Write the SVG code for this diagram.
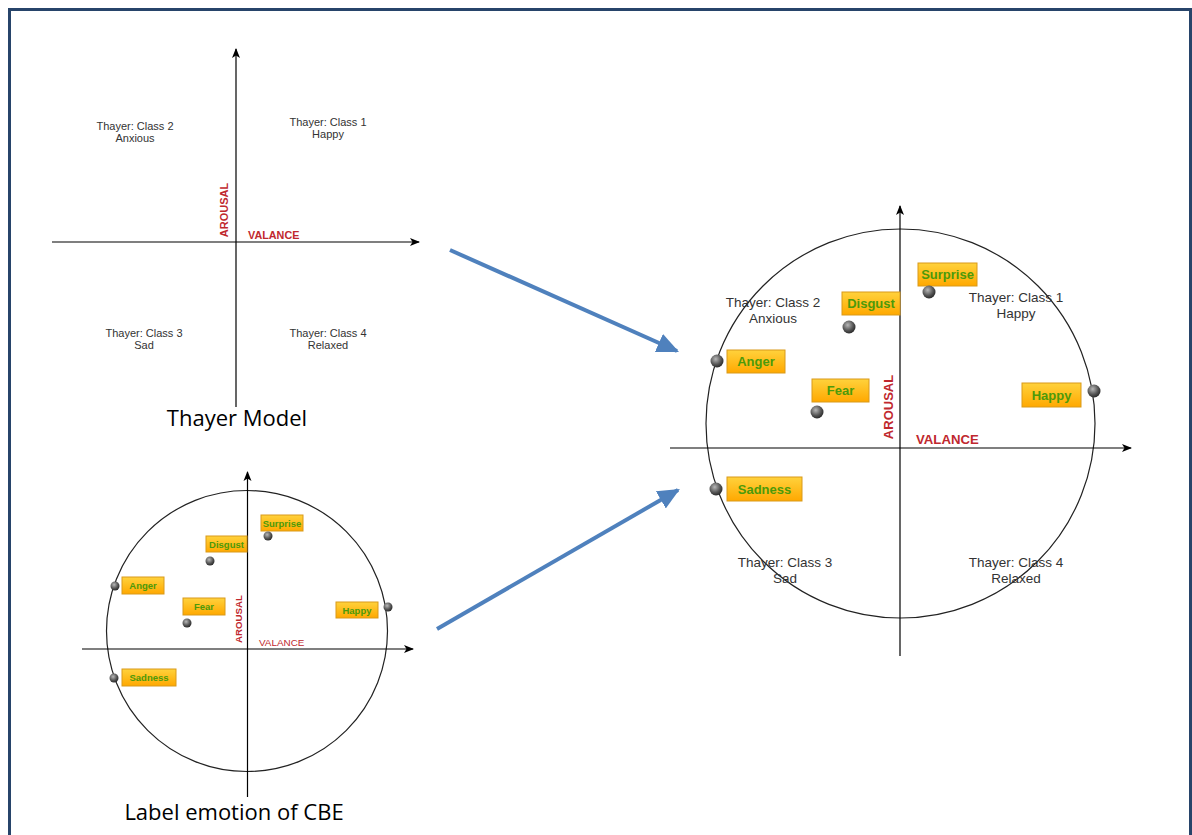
<svg xmlns="http://www.w3.org/2000/svg" width="1192" height="835" viewBox="0 0 1192 835">
<defs>
<linearGradient id="box" x1="0" y1="0" x2="0" y2="1">
<stop offset="0" stop-color="#ffd23c"/>
<stop offset="1" stop-color="#ffa800"/>
</linearGradient>
<radialGradient id="dot" cx="0.4" cy="0.35" r="0.7">
<stop offset="0" stop-color="#b8b8b8"/>
<stop offset="0.6" stop-color="#555"/>
<stop offset="1" stop-color="#222"/>
</radialGradient>
<marker id="ax" viewBox="0 0 10 10" refX="9" refY="5" markerWidth="10" markerHeight="10" markerUnits="userSpaceOnUse" orient="auto">
<path d="M0,1 L10,5 L0,9 L2.5,5 Z" fill="#000"/>
</marker>
<marker id="blue" viewBox="0 0 20 18" refX="18" refY="9" markerWidth="22" markerHeight="20" markerUnits="userSpaceOnUse" orient="auto">
<path d="M0,0 L20,9 L0,18 Z" fill="#4f81bd"/>
</marker>
<style>
.axis{stroke:#000;stroke-width:1.2;fill:none}
.circ{stroke:#222;stroke-width:1.2;fill:none}
.th{font-family:"Liberation Sans",Arial,sans-serif;fill:#333;text-anchor:middle}
.red{font-family:"Liberation Sans",Arial,sans-serif;fill:#c0282e;font-weight:bold}
.bx{fill:url(#box);stroke:#d99a1a;stroke-width:1}
.em{font-family:"Liberation Sans",Arial,sans-serif;fill:#4c9a0a;font-weight:bold;text-anchor:middle}
.dt{fill:url(#dot)}
.cap{font-family:"Open Sans","Noto Sans","Liberation Sans",sans-serif;fill:#000;text-anchor:middle}
.conn{stroke:#4f81bd;stroke-width:4;fill:none;marker-end:url(#blue)}
</style>
</defs>
<rect x="9.5" y="9.5" width="1181" height="840" fill="#fff" stroke="#27446a" stroke-width="3"/>

<g id="thayer-model">
<line class="axis" x1="236" y1="407" x2="236" y2="49" marker-end="url(#ax)"/>
<line class="axis" x1="52" y1="242" x2="419" y2="242" marker-end="url(#ax)"/>
<text class="th" font-size="11" x="135" y="130">Thayer: Class 2</text>
<text class="th" font-size="11" x="135" y="142">Anxious</text>
<text class="th" font-size="11" x="328" y="126">Thayer: Class 1</text>
<text class="th" font-size="11" x="328" y="138">Happy</text>
<text class="th" font-size="11" x="144" y="337">Thayer: Class 3</text>
<text class="th" font-size="11" x="144" y="349">Sad</text>
<text class="th" font-size="11" x="328" y="337">Thayer: Class 4</text>
<text class="th" font-size="11" x="328" y="349">Relaxed</text>
<text class="red" font-size="11" text-anchor="middle" transform="translate(228,210) rotate(-90)">AROUSAL</text>
<text class="red" font-size="10.8" x="248" y="239">VALANCE</text>
<text class="cap" font-size="22" x="237" y="426">Thayer Model</text>
</g>

<g id="cbe-model">
<circle class="circ" cx="247" cy="631" r="140.5"/>
<line class="axis" x1="247.5" y1="797" x2="247.5" y2="472" marker-end="url(#ax)"/>
<line class="axis" x1="82" y1="649" x2="413" y2="649" marker-end="url(#ax)"/>
<text class="red" font-size="9.7" text-anchor="middle" transform="translate(241.5,619) rotate(-90)">AROUSAL</text>
<text class="red" font-size="9.9" x="259" y="645.5" style="font-weight:normal">VALANCE</text>
<g id="s-surprise"><rect class="bx" x="261" y="515" width="42" height="16"/><text class="em" font-size="9.5" x="282" y="526.5">Surprise</text><circle class="dt" cx="268" cy="536" r="4.5"/></g>
<g id="s-disgust"><rect class="bx" x="206" y="536" width="41" height="16"/><text class="em" font-size="9.5" x="226.5" y="547.5">Disgust</text><circle class="dt" cx="210" cy="561" r="4.5"/></g>
<g id="s-anger"><rect class="bx" x="122" y="577" width="42" height="17"/><text class="em" font-size="9.5" x="143" y="589">Anger</text><circle class="dt" cx="115" cy="586" r="4.5"/></g>
<g id="s-fear"><rect class="bx" x="183" y="598" width="42" height="17"/><text class="em" font-size="9.5" x="204" y="610">Fear</text><circle class="dt" cx="187" cy="623" r="4.5"/></g>
<g id="s-happy"><rect class="bx" x="336" y="602" width="42" height="16"/><text class="em" font-size="9.5" x="357" y="613.5">Happy</text><circle class="dt" cx="388" cy="607" r="4.5"/></g>
<g id="s-sadness"><rect class="bx" x="122" y="669" width="54" height="17"/><text class="em" font-size="9.5" x="149" y="681">Sadness</text><circle class="dt" cx="114" cy="678" r="4.5"/></g>
<text class="cap" font-size="22" x="234" y="820">Label emotion of CBE</text>
</g>

<g id="combined-model">
<circle class="circ" cx="900.5" cy="423.5" r="194.5"/>
<line class="axis" x1="900" y1="656" x2="900" y2="206" marker-end="url(#ax)"/>
<line class="axis" x1="670" y1="448" x2="1131" y2="448" marker-end="url(#ax)"/>
<text class="th" font-size="13.5" x="773" y="307">Thayer: Class 2</text>
<text class="th" font-size="13.5" x="773" y="323">Anxious</text>
<text class="th" font-size="13.5" x="1016" y="302">Thayer: Class 1</text>
<text class="th" font-size="13.5" x="1016" y="318">Happy</text>
<text class="th" font-size="13.5" x="785" y="567">Thayer: Class 3</text>
<text class="th" font-size="13.5" x="785" y="583">Sad</text>
<text class="th" font-size="13.5" x="1016" y="567">Thayer: Class 4</text>
<text class="th" font-size="13.5" x="1016" y="583">Relaxed</text>
<text class="red" font-size="13" text-anchor="middle" transform="translate(892.7,407) rotate(-90)">AROUSAL</text>
<text class="red" font-size="13.2" x="916" y="443.5">VALANCE</text>
<g id="b-surprise"><rect class="bx" x="918" y="263" width="59" height="23"/><text class="em" font-size="13" x="947.5" y="279">Surprise</text><circle class="dt" cx="929" cy="292" r="6.5"/></g>
<g id="b-disgust"><rect class="bx" x="842" y="292" width="58" height="23"/><text class="em" font-size="13" x="871" y="308">Disgust</text><circle class="dt" cx="849" cy="327" r="6.5"/></g>
<g id="b-anger"><rect class="bx" x="727" y="350" width="58" height="23"/><text class="em" font-size="13" x="756" y="366">Anger</text><circle class="dt" cx="717" cy="361" r="6.5"/></g>
<g id="b-fear"><rect class="bx" x="812" y="379" width="57" height="23"/><text class="em" font-size="13" x="840.5" y="395">Fear</text><circle class="dt" cx="817" cy="412" r="6.5"/></g>
<g id="b-happy"><rect class="bx" x="1022" y="383" width="59" height="24"/><text class="em" font-size="13" x="1051.5" y="399.5">Happy</text><circle class="dt" cx="1094" cy="391" r="6.5"/></g>
<g id="b-sadness"><rect class="bx" x="727" y="477" width="75" height="24"/><text class="em" font-size="13" x="764.5" y="493.5">Sadness</text><circle class="dt" cx="716" cy="489" r="6.5"/></g>
</g>

<g id="connectors">
<line class="conn" x1="450" y1="250" x2="677" y2="351"/>
<line class="conn" x1="437" y1="629" x2="678" y2="490"/>
</g>
</svg>
